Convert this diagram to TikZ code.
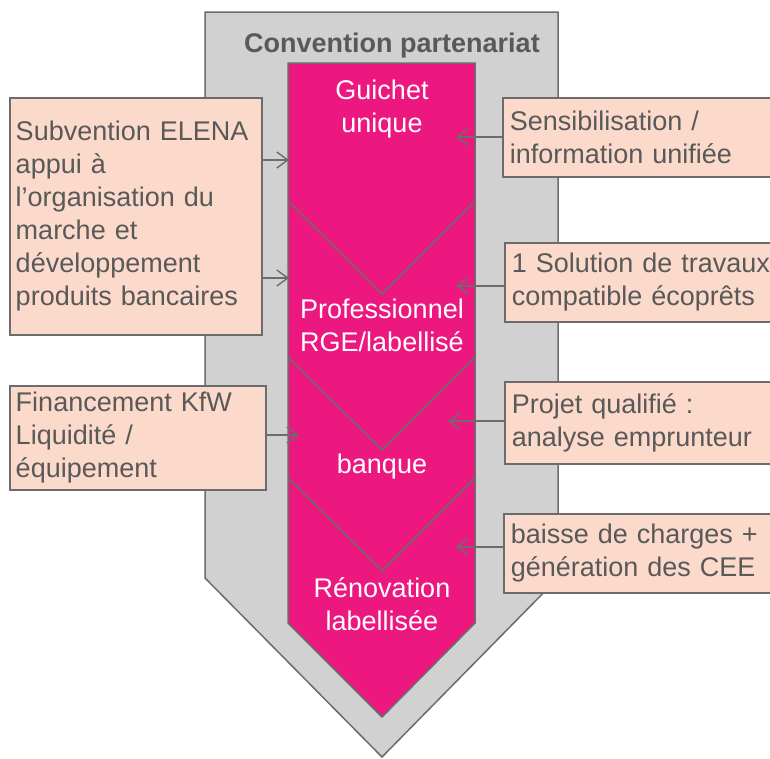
\documentclass[tikz,border=0pt]{standalone}
\usepackage{fontspec}
\setmainfont{Liberation Sans}
\usetikzlibrary{arrows.meta}
\definecolor{pinkc}{RGB}{236,24,128}
\definecolor{peach}{RGB}{251,218,203}
\definecolor{graybg}{RGB}{208,209,208}
\definecolor{edgec}{RGB}{108,108,108}
\definecolor{textc}{RGB}{89,89,89}
\tikzset{
  bigfont/.style={font=\fontsize{27}{33}\selectfont},
  infobox/.style={draw=edgec, line width=1.5pt, fill=peach, text=textc, bigfont,
    align=left, inner xsep=6pt, inner ysep=0pt, anchor=north west},
  steplabel/.style={text=white, bigfont, align=center, inner sep=0pt},
  arr/.style={draw=edgec, line width=1.4pt, -{Straight Barb[length=11pt,width=16pt,line width=1.4pt]}},
  vline/.style={draw=edgec, line width=1.5pt},
}
\begin{document}
\begin{tikzpicture}[x=1pt,y=-1pt]
\useasboundingbox (0,0) rectangle (770,758);
\begin{scope}
\clip (0,0) rectangle (770,758);
% outer gray arrow
\draw[draw=edgec, line width=1.5pt, fill=graybg]
  (205,12) -- (558,12) -- (558,578) -- (382,757) -- (205,578) -- cycle;
% pink chevron column
\draw[draw=edgec, line width=1.5pt, fill=pinkc]
  (288,63) -- (475,63) -- (475,623) -- (382,717) -- (288,623) -- cycle;
\draw[vline] (288,201) -- (382,294) -- (475,201);
\draw[vline] (288,357) -- (382,450) -- (475,357);
\draw[vline] (288,478) -- (382,571) -- (475,478);

\node[font=\bfseries\fontsize{27}{33}\selectfont, text=textc, anchor=base, inner sep=0pt]
  (title) at (392,52) {Convention partenariat};

% pink labels
\node[steplabel] (s1) at (382,109) {Guichet\\unique};
\node[steplabel] (s2) at (382,325) {Professionnel\\RGE/labellisé};
\node[steplabel, anchor=base] (s3) at (382,473) {banque};
\node[steplabel] (s4) at (382,604) {Rénovation\\labellisée};

% left boxes
\node[infobox, text width=240pt, minimum height=237pt] (l1) at (9,97)
  {Subvention ELENA\\appui à\\l’organisation du\\marche et\\développement\\produits bancaires};
\node[infobox, text width=244pt, minimum height=104pt] (l2) at (9,385)
  {Financement KfW\\Liquidité /\\équipement};

% right boxes
\node[infobox, inner xsep=7pt, text width=266pt, minimum height=79pt] (r1) at (502,97)
  {Sensibilisation /\\information unifiée};
\node[infobox, inner xsep=7pt, text width=264pt, minimum height=79pt] (r2) at (504,242)
  {1 Solution de travaux\\compatible écoprêts};
\node[infobox, inner xsep=7pt, text width=264pt, minimum height=82pt] (r3) at (504,381)
  {Projet qualifié :\\analyse emprunteur};
\node[infobox, inner xsep=7pt, text width=265pt, minimum height=79pt] (r4) at (503,513)
  {baisse de charges +\\génération des CEE};

% arrow ends
\coordinate (a1) at (289,160);
\coordinate (a2) at (289,278);
\coordinate (a3) at (299,435);
\coordinate (b1) at (456,137);
\coordinate (b2) at (456,286);
\coordinate (b3) at (448,421);
\coordinate (b4) at (456,547);

\draw[arr] (l1.east |- a1) -- (a1);
\draw[arr] (l1.east |- a2) -- (a2);
\draw[arr] (l2.east |- a3) -- (a3);
\draw[arr] (r1.west |- b1) -- (b1);
\draw[arr] (r2.west |- b2) -- (b2);
\draw[arr] (r3.west |- b3) -- (b3);
\draw[arr] (r4.west |- b4) -- (b4);
\end{scope}
\end{tikzpicture}
\end{document}
